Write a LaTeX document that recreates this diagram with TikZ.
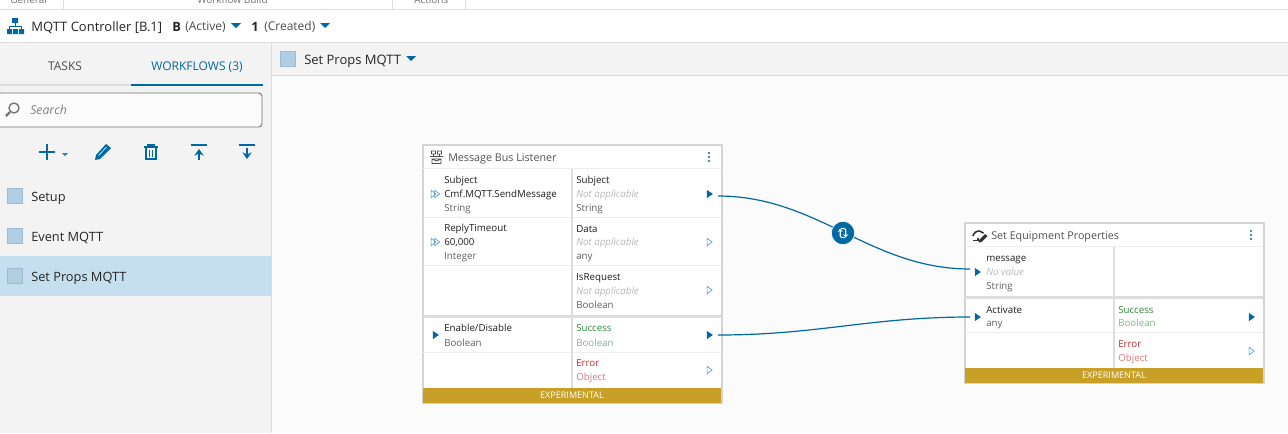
\documentclass[tikz,border=0pt]{standalone}
\usepackage{fontspec}
\setmainfont{Open Sans}
\usetikzlibrary{shapes.geometric,arrows.meta}
\definecolor{cmfblue}{HTML}{0068A3}
\definecolor{swatch}{HTML}{B0CDE1}
\definecolor{swatchline}{HTML}{9FBBD0}
\definecolor{rowsel}{HTML}{C6DFEE}
\definecolor{gold}{HTML}{C8A027}
\definecolor{panel}{HTML}{F3F3F3}
\definecolor{canvas}{HTML}{FBFBFB}
\definecolor{rule}{HTML}{DDDDDD}
\definecolor{cardline}{HTML}{D4D4D4}
\definecolor{sep}{HTML}{EEEEEE}
\definecolor{okdark}{HTML}{2F8A3C}
\definecolor{oklight}{HTML}{7DB984}
\definecolor{errdark}{HTML}{BF2F2D}
\definecolor{errlight}{HTML}{D97B78}
\tikzset{
	big/.style={anchor=base west,inner sep=0pt,text=black!85,font=\fontsize{9.75}{11}\selectfont},
	tab/.style={anchor=base,inner sep=0pt,font=\fontsize{9}{10}\selectfont},
	topcut/.style={anchor=base west,inner sep=0pt,text=black!55,font=\fontsize{7.5}{9}\selectfont},
	txt/.style={anchor=base west,inner sep=0pt,text=black!88,font=\fontsize{7.3}{9}\selectfont},
	typ/.style={txt,text=black!62},
	novalue/.style={txt,text=black!28,font=\fontsize{7.3}{9}\selectfont\itshape},
	okname/.style={txt,text=okdark},
	oktype/.style={txt,text=oklight},
	errname/.style={txt,text=errdark},
	errtype/.style={txt,text=errlight},
	cardtitle/.style={anchor=base west,inner sep=0pt,text=black!68,font=\fontsize{8.05}{10}\selectfont},
	bartext/.style={anchor=center,inner sep=0pt,text=white,font=\fontsize{6.8}{9}\selectfont},
	card/.style={draw=cardline,fill=white,line width=1.5pt},
	portfull/.style={isosceles triangle,isosceles triangle stretches,
		minimum width=6.2pt,minimum height=4.6pt,inner sep=0pt,fill=cmfblue},
	portopen/.style={portfull,fill=none,draw=cmfblue!70,line width=0.45pt,minimum width=5.6pt,minimum height=3.8pt},
	wire/.style={draw=cmfblue,line width=0.9pt},
	swatchbox/.style={draw=swatchline,fill=swatch,line width=0.7pt},
	tool/.style={draw=cmfblue,line width=1.3pt},
	caret/.style={fill=cmfblue}
}
\begin{document}
\begin{tikzpicture}[x=0.75pt,y=-0.75pt]
	\useasboundingbox (0,0) rectangle (1288,433);

	% backgrounds
	\fill[white] (0,0) rectangle (1288,433);
	\fill[canvas] (272,76) rectangle (1288,433);
	\fill[panel] (0,43) rectangle (271,433);
	\fill[panel] (272,43) rectangle (1288,75);
	\fill[rowsel] (0,256) rectangle (271,296);
	\draw[rule] (0,9.5) -- (1288,9.5);
	\draw[rule] (0,42.5) -- (1288,42.5);
	\draw[rule] (272,75.5) -- (1288,75.5);
	\draw[rule] (271.5,43) -- (271.5,433);

	% ribbon cut off at the top
	\node[topcut] (ribbonGeneral) at (10,3) {General};
	\node[topcut] (ribbonBuild) at (197,3) {Workflow Build};
	\node[topcut] (ribbonActions) at (414,3) {Actions};
	\draw[rule] (63.5,0) -- ++(0,9);
	\draw[rule] (392.5,0) -- ++(0,9);
	\draw[rule] (465.5,0) -- ++(0,9);

	% header
	\fill[cmfblue] (12,18) rectangle ++(6,5)
		(7,29) rectangle ++(5,5) (13,29) rectangle ++(5,5) (19,29) rectangle ++(5,5);
	\draw[cmfblue,line width=0.7pt] (15,23) -- ++(0,3) (9.5,29) -- ++(0,-3) -- ++(12,0) -- ++(0,3);
	\node[big] (ctrlName) at (31,31) {MQTT Controller [B.1]};
	\node[big,font=\fontsize{9.6}{11}\selectfont\bfseries] (ctrlVersion) at (172,31) {B};
	\node[big,text=black!70,font=\fontsize{9}{11}\selectfont] (ctrlState) at (185,30) {(Active)};
	\fill[caret] (231,23) -- ++(10,0) -- ++(-5,5) --cycle;
	\node[big,font=\fontsize{9.6}{11}\selectfont\bfseries] (ctrlRev) at (251,31) {1};
	\node[big,text=black!70,font=\fontsize{9}{11}\selectfont] (ctrlRevState) at (264,30) {(Created)};
	\fill[caret] (320,23) -- ++(10,0) -- ++(-5,5) --cycle;

	% tabs
	\node[tab,text=black!70] (tabTasks) at (65,70) {TASKS};
	\node[tab,text=cmfblue] (tabFlows) at (197,70) {WORKFLOWS (3)};
	\fill[rule] (0,84) rectangle (131,86);
	\fill[cmfblue] (131,84) rectangle (263,86);

	% search box
	\draw[black!55,fill=canvas,rounded corners=2.5pt,line width=0.7pt] (-3,93) rectangle (262,127);
	\draw[black!55,line width=1pt] (14,108) circle (5);
	\draw[black!55,line width=1.6pt] (10,112) -- (6,116);
	\node[anchor=base west,inner sep=0pt,text=black!50,font=\fontsize{9.2}{10}\selectfont\itshape] (searchHint) at (30,114) {Search};

	% tool icons
	\draw[tool] (39,152) -- ++(16,0) (47,144) -- ++(0,16);
	\fill[caret,opacity=.8] (62,153) -- ++(6,0) -- ++(-3,3) --cycle;
	\fill[cmfblue] (95,160) -- ++(1,-5) -- ++(10,-11) -- ++(5,4) -- ++(-11,11) --cycle;
	\draw[panel,line width=0.5pt] (98.5,155.5) -- ++(8,-8.5);
	\draw[cmfblue,line width=1.2pt] (146,148) -- ++(0,11) -- ++(10,0) -- ++(0,-11);
	\draw[cmfblue,line width=1.2pt] (144,147) -- ++(14,0) (148,147) -- ++(0,-2) -- ++(6,0) -- ++(0,2);
	\draw[cmfblue,line width=0.8pt] (149.5,150) -- ++(0,7) (152.5,150) -- ++(0,7);
	\fill[cmfblue] (191,144) rectangle ++(16,2);
	\draw[-{Stealth[length=5pt,width=7pt]},cmfblue,line width=1.5pt] (199,160) -- ++(0,-11);
	\fill[cmfblue] (239,144) rectangle ++(16,2);
	\draw[-{Stealth[length=5pt,width=7pt]},cmfblue,line width=1.5pt] (247,148) -- ++(0,11);

	% workflow list
	\draw[swatchbox] (7.5,188.5) rectangle ++(15,15);
	\draw[swatchbox] (7.5,228.5) rectangle ++(15,15);
	\draw[swatchbox] (7.5,268.5) rectangle ++(15,15);
	\node[big,font=\fontsize{9.6}{11}\selectfont] (flowSetup) at (31,201) {Setup};
	\node[big,font=\fontsize{9.6}{11}\selectfont] (flowEvent) at (31,241) {Event MQTT};
	\node[big,font=\fontsize{9.6}{11}\selectfont] (flowProps) at (31,281) {Set Props MQTT};

	% workflow bar
	\draw[swatchbox] (280.5,51.5) rectangle ++(15,15);
	\node[big] (barName) at (304,64) {Set Props MQTT};
	\fill[caret] (406,56) -- ++(10,0) -- ++(-5,5) --cycle;

	% first card
	\draw[card] (422.5,144.5) rectangle (721.5,403);
	\fill[rule] (423,315) rectangle (721,318);
	\fill[gold] (423,388) rectangle (721,402.5);
	\draw[sep,line width=1pt] (423,168.5) -- (721,168.5)
		(423,217.5) -- (721,217.5) (423,265.5) -- (721,265.5)
		(423,352.5) -- (721,352.5);
	\draw[rule,line width=1.2pt] (572,169) -- (572,388);
	\draw[black!70,line width=0.6pt] (430,156.5) -- ++(13,0) (431.5,151) rectangle ++(4,3) (437.5,151) rectangle ++(4,3)
		(433.5,154) -- ++(0,2.5) (439.5,154) -- ++(0,2.5) (432,159) rectangle ++(9,4.5) (432,159) -- ++(4.5,2) -- ++(4.5,-2);
	\node[cardtitle] (busTitle) at (448,161) {Message Bus Listener};
	\fill[cmfblue] (709,153) circle (1.1) (709,157) circle (1.1) (709,161) circle (1.1);

	\node[txt] (busInSubject) at (444,183) {Subject};
	\node[txt] (busInSubjectVal) at (444,197) {Cmf.MQTT.SendMessage};
	\node[typ] (busInSubjectType) at (444,211) {String};
	\node[txt] (busInReply) at (444,231) {ReplyTimeout};
	\node[txt] (busInReplyVal) at (444,245) {60,000};
	\node[typ] (busInReplyType) at (444,259) {Integer};
	\node[txt] (busEnable) at (444,331) {Enable/Disable};
	\node[typ] (busEnableType) at (444,346) {Boolean};

	\node[txt] (busOutSubject) at (576,183) {Subject};
	\node[novalue] (busOutSubjectVal) at (576,197) {Not applicable};
	\node[typ] (busOutSubjectType) at (576,211) {String};
	\node[txt] (busOutData) at (576,232) {Data};
	\node[novalue] (busOutDataVal) at (576,245) {Not applicable};
	\node[typ] (busOutDataType) at (576,259) {any};
	\node[txt] (busOutReq) at (576,280) {IsRequest};
	\node[novalue] (busOutReqVal) at (576,294) {Not applicable};
	\node[typ] (busOutReqType) at (576,308) {Boolean};
	\node[okname] (busOk) at (576,331) {Success};
	\node[oktype] (busOkType) at (576,346) {Boolean};
	\node[errname] (busErr) at (576,366) {Error};
	\node[errtype] (busErrType) at (576,380) {Object};
	\node[bartext] (busBar) at (572,395.5) {EXPERIMENTAL};

	% ports of first card
	\node[portopen] (busPortA) at (433,194) {};
	\node[portopen] (busPortB) at (436.5,194) {};
	\node[portopen] (busPortC) at (433,242) {};
	\node[portopen] (busPortD) at (436.5,242) {};
	\node[portfull] (busPortEnable) at (435,335) {};
	\node[portfull] (busOutPortSubject) at (709,194) {};
	\node[portopen] (busOutPortData) at (709,242) {};
	\node[portopen] (busOutPortReq) at (709,290) {};
	\node[portfull] (busOutPortOk) at (709,335) {};
	\node[portopen] (busOutPortErr) at (709,370) {};

	% second card
	\draw[card] (964.5,222.5) rectangle (1263.5,383);
	\fill[rule] (965,296) rectangle (1263,299);
	\fill[gold] (965,368) rectangle (1263,382.5);
	\draw[sep,line width=1pt] (965,246.5) -- (1263,246.5) (965,332.5) -- (1263,332.5);
	\draw[rule,line width=1.2pt] (1114,247) -- (1114,368);
	\draw[black!80,line width=1.2pt] (973,236) arc (190:320:6);
	\draw[black!80,line width=1pt] (973,240.5) -- ++(5,0) -- ++(0,-3);
	\fill[black!80] (979,240) -- ++(6,-6) -- ++(2.5,2) -- ++(-6,6) -- ++(-3,0.5) --cycle;
	\node[cardtitle] (propsTitle) at (991,239) {Set Equipment Properties};
	\fill[cmfblue] (1251,231) circle (1.1) (1251,235) circle (1.1) (1251,239) circle (1.1);

	\node[txt] (propsMsg) at (986,261) {message};
	\node[novalue] (propsMsgVal) at (986,275) {No value};
	\node[typ] (propsMsgType) at (986,289) {String};
	\node[txt] (propsActivate) at (986,313) {Activate};
	\node[typ] (propsActivateType) at (986,326) {any};
	\node[okname] (propsOk) at (1118,313) {Success};
	\node[oktype] (propsOkType) at (1118,326) {Boolean};
	\node[errname] (propsErr) at (1118,347) {Error};
	\node[errtype] (propsErrType) at (1118,361) {Object};
	\node[bartext] (propsBar) at (1114,375.5) {EXPERIMENTAL};

	% ports of second card
	\node[portfull] (propsPortMsg) at (977,272) {};
	\node[portfull] (propsPortActivate) at (977,317) {};
	\node[portfull] (propsOutPortOk) at (1251,317) {};
	\node[portopen] (propsOutPortErr) at (1251,351) {};

	% connectors
	\coordinate (wireSubjectOut) at (718,196);
	\coordinate (wireMsgIn) at (970,269);
	\coordinate (wireOkOut) at (718,335);
	\coordinate (wireActivateIn) at (970,317);
	\draw[wire] (wireSubjectOut) .. controls +(100,0) and +(-100,0) .. (wireMsgIn);
	\draw[wire] (wireOkOut) .. controls +(100,0) and +(-100,0) .. (wireActivateIn);

	% loop mark on the wire
	\node[circle,fill=cmfblue,draw=canvas,line width=0.5pt,minimum size=17.5pt,inner sep=0pt] (wireLoop) at (843,233) {};
	\draw[-{Stealth[length=2.5pt,width=3.8pt]},white,line width=0.9pt,rounded corners=1pt] (845,237.5) -- (840.3,237.5) -- (840.3,228.5);
	\draw[-{Stealth[length=2.5pt,width=3.8pt]},white,line width=0.9pt,rounded corners=1pt] (841,228.5) -- (845.7,228.5) -- (845.7,237.5);
\end{tikzpicture}
\end{document}
